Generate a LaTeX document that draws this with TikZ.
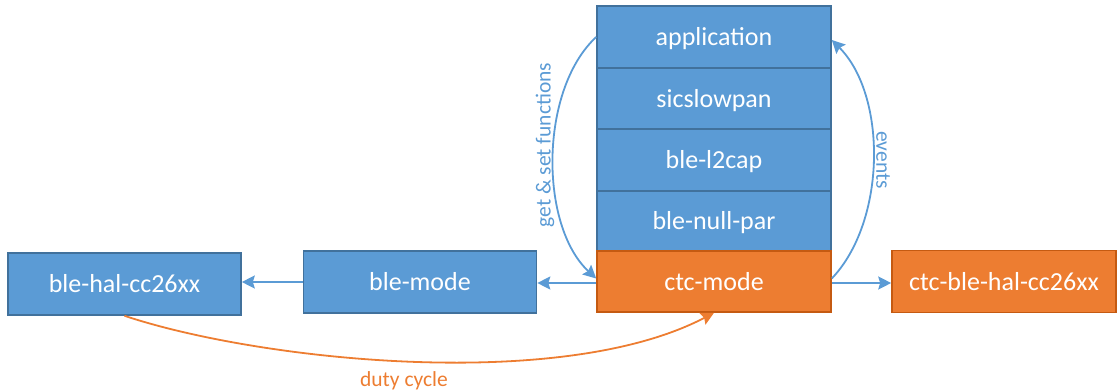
\documentclass[tikz,border=0pt]{standalone}
\usepackage{fontspec}
\setmainfont{Carlito}
\usetikzlibrary{arrows.meta}
\definecolor{boxblue}{HTML}{5B9BD5}
\definecolor{edgeblue}{HTML}{41719C}
\definecolor{boxorange}{HTML}{ED7D31}
\definecolor{edgeorange}{HTML}{C55A11}
\tikzset{
  layer/.style={rectangle, draw=edgeblue, fill=boxblue, line width=1.6pt,
    text=white, inner sep=0pt, minimum width=234pt, minimum height=62pt,
    text height=22pt, text depth=5pt,
    font=\fontsize{26}{30}\selectfont},
  ctclayer/.style={layer, draw=edgeorange, fill=boxorange},
  link/.style={draw=boxblue, line width=1.8pt,
    -{Stealth[length=13pt,width=13pt,inset=2pt]}},
  ctclink/.style={link, draw=boxorange},
  note/.style={text=boxblue, font=\fontsize{21.5}{25}\selectfont, inner sep=0pt},
}
\begin{document}
\begin{tikzpicture}[x=1pt,y=-1pt]
\useasboundingbox (0,0) rectangle (1117,391);

% protocol stack
\node[layer] (app) at (714,37) {application};
\node[layer, minimum height=61pt] (sics) at (714,98.5) {sicslowpan};
\node[layer] (l2cap) at (714,160) {ble-l2cap};
\node[layer, minimum height=60pt] (nullpar) at (714,221) {ble-null-par};
\node[ctclayer, minimum height=61pt] (ctc) at (714,281.5) {ctc-mode};

% side modules
\node[layer, minimum width=233pt] (blemode) at (420,282) {ble-mode};
\node[layer, minimum width=233pt] (blehal) at (124.5,284) {ble-hal-cc26xx};
\node[ctclayer, minimum width=224pt] (ctchal) at (1004,281.5) {ctc-ble-hal-cc26xx};

% straight links
\coordinate (ctcw) at ([yshift=-1.5pt]ctc.west);
\coordinate (ctce) at ([yshift=-1.5pt]ctc.east);
\draw[link] (ctcw) -- (ctcw -| blemode.east);
\draw[link] (blemode.west) -- (blemode.west -| blehal.east);
\draw[link] (ctce) -- (ctce -| ctchal.west);

% curved links
\coordinate (gsend) at ([yshift=3pt]ctc.west);
\coordinate (evstart) at ([yshift=3pt]ctc.east);
\coordinate (evend) at ([yshift=-3pt]app.east);
\draw[link] (app.west) .. controls +(-57,53) and +(-57,-53) .. (gsend);
\draw[link] (evstart) .. controls +(55,-58) and +(55,55) .. (evend);
\draw[ctclink] (blehal.south) .. controls +(135,45) and +(-153,80) .. (ctc.south);

% labels
\node[note, rotate=90] (gslabel) at (545,145) {get \& set functions};
\node[note, rotate=-90] (evlabel) at (883,160) {events};
\node[note, text=boxorange, anchor=base] (dclabel) at (404,386) {duty cycle};
\end{tikzpicture}
\end{document}
